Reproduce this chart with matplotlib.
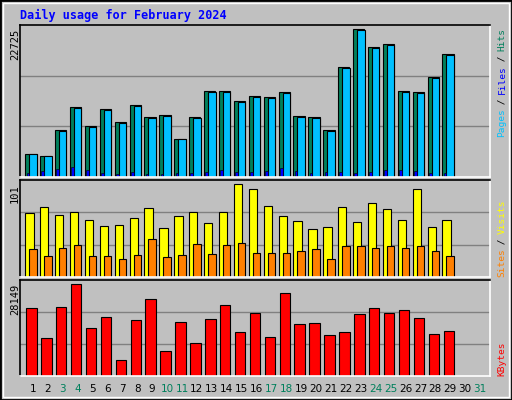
import matplotlib
matplotlib.use("Agg")
import matplotlib.pyplot as plt
from matplotlib.patches import Rectangle

days = list(range(1, 32))
hits = [3599,3187,7146,10694,7763,10437,8380,11002,9151,9460,5912,9151,13161,13161,11619,
        12390,12236,13007,9305,9151,7146,16863,22725,19948,20462,13161,13007,15321,18868]
files = [3560,3150,7080,10600,7690,10340,8300,10900,9060,9370,5850,9060,13040,13040,11510,
         12270,12120,12880,9210,9060,7080,16700,22500,19760,20270,13040,12880,15170,18690]
pages = [617,874,1182,1491,1028,617,411,720,411,411,565,565,720,1028,720,720,874,1337,874,
         565,720,720,565,720,1028,1028,874,565,565]
visits = [70.3,76.8,68.1,71.4,62.6,56,57.1,64.8,75.8,53.8,67,71.4,59.3,71.4,101,96.6,78,67,
          61.5,52.7,54.9,76.8,60.4,81.2,74.7,62.6,96.6,54.9,62.6]
sites = [30.7,23.1,31.8,35.1,23.1,23.1,19.8,24.2,41.7,22,24.2,36.2,25.3,35.1,37.3,26.3,26.3,
         26.3,28.5,30.7,19.8,34,34,31.8,34,31.8,34,28.5,23.1]
kbytes = [20725,11755,21034,28149,14539,17941,4949,17013,23509,7733,16394,10208,17322,21653,
          13611,19179,12064,25365,15776,16085,12683,13611,18869,20725,19179,20106,17632,12992,13920]
weekend = [3, 4, 10, 11, 17, 18, 24, 25, 31]
title = "Daily usage for February 2024"

W, H = 512, 400
fig = plt.figure(figsize=(W/100, H/100), dpi=100, facecolor="#C0C0C0")
mono = "DejaVu Sans Mono"

fig.patches.append(Rectangle((0, 0), 1, 1, transform=fig.transFigure, fill=False,
                             edgecolor="black", linewidth=2))
fig.patches.append(Rectangle((3/W, 3/H), 1-6/W, 1-6/H, transform=fig.transFigure, fill=False,
                             edgecolor="white", linewidth=1))
fig.text(20/W, 1-15/H, title, color="#0000FF", fontsize=8.5, fontweight="bold",
         family=mono, va="center", ha="left")

def mkax(top, bottom):
    ax = fig.add_axes([20/W, 1-bottom/H, 470/W, (bottom-top)/H])
    ax.set_facecolor("#C0C0C0")
    ax.set_xlim(0.13, 31.67)
    ax.set_xticks([]); ax.set_yticks([])
    for s in ["top", "left"]:
        ax.spines[s].set_color("black")
    for s in ["bottom", "right"]:
        ax.spines[s].set_color("white")
    for s in ax.spines.values():
        s.set_linewidth(1.2)
    return ax

def grid(ax, ymax):
    for f in (1/3, 2/3):
        ax.axhline(ymax*f, color="#808080", linewidth=1, zorder=0)

d = days[:len(hits)]
ax1 = mkax(25, 177)
ym = 22725*151/147
ax1.set_ylim(0, ym)
grid(ax1, ym)
ax1.bar([x-0.52 for x in d], hits, width=0.76, align="edge", color="#00805C", edgecolor="black", linewidth=0.8)
ax1.bar([x-0.25 for x in d], files, width=0.5, align="edge", color="#00C0FF", edgecolor="black", linewidth=0.8)
ax1.bar([x-0.43 for x in d], pages, width=0.18, align="edge", color="#0000FF", edgecolor="black", linewidth=0.4)
fig.text(15/W, 1-29/H, "22725", rotation=90, ha="center", va="top", fontsize=7.5, family=mono)

ax2 = mkax(180, 277)
ym2 = 101*(277-180)/(277-184.5)
ax2.set_ylim(0, ym2)
grid(ax2, ym2)
ax2.bar([x-0.52 for x in d], visits, width=0.56, align="edge", color="#FFFF00", edgecolor="black", linewidth=0.8)
ax2.bar([x-0.25 for x in d], sites, width=0.5, align="edge", color="#FF8000", edgecolor="black", linewidth=0.8)
fig.text(15/W, 1-184/H, "101", rotation=90, ha="center", va="top", fontsize=7.5, family=mono)

ax3 = mkax(280, 376)
ym3 = 28149*(376-280)/(376-284)
ax3.set_ylim(0, ym3)
grid(ax3, ym3)
ax3.bar([x-0.45 for x in d], kbytes, width=0.7, align="edge", color="#FF0000", edgecolor="black", linewidth=0.8)
fig.text(15/W, 1-284/H, "28149", rotation=90, ha="center", va="top", fontsize=7.5, family=mono)

for dd in days:
    x = 20 + (dd - 0.13) * 470/31.54
    fig.text(x/W, 1-389/H, str(dd), ha="center", va="center", fontsize=7.5,
             color="#00805C" if dd in weekend else "black", family="DejaVu Sans")

def side(parts, y_bottom):
    y = y_bottom
    for txt, col in parts:
        fig.text(502/W, y/H, txt, rotation=90, ha="center", va="bottom",
                 fontsize=6.8, color=col, family=mono)
        y += len(txt)*5.4
side([("Pages", "#00C0FF"), (" / ", "#000000"), ("Files", "#0000FF"), (" / ", "#000000"), ("Hits", "#00805C")], 400-137)
side([("Sites", "#FF8000"), (" / ", "#000000"), ("Visits", "#FFFF00")], 400-277)
side([("KBytes", "#FF0000")], 400-376)

fig.savefig("out.png", dpi=100, facecolor=fig.get_facecolor())
